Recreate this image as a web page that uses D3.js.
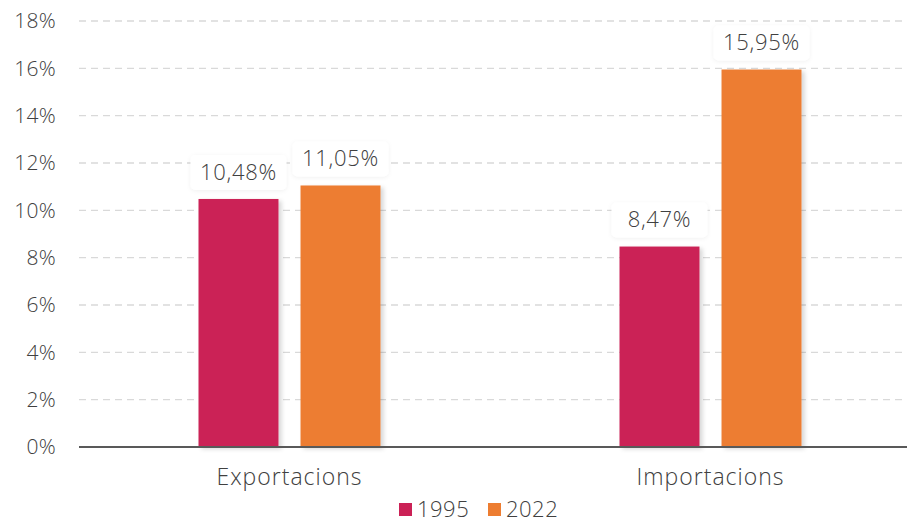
<!DOCTYPE html>
<html>
<head>
<meta charset="utf-8">
<script src="https://cdn.jsdelivr.net/npm/d3@7"></script>
<style>
  body { margin: 0; background: #fff; }
  svg text { font-family: "Open Sans", "Lato", sans-serif; font-weight: 300; fill: #404040; }
</style>
</head>
<body>
<svg width="907" height="519"></svg>
<script>
// chart data
const categories = ["Exportacions", "Importacions"];
const seriesNames = ["1995", "2022"];
const values1995 = [10.48, 8.47];
const values2022 = [11.05, 15.95];
const yTicks = [0, 2, 4, 6, 8, 10, 12, 14, 16, 18];
const colors = ["#CB2156", "#ED7D31"];

const svg = d3.select("svg");
const fmt = v => d3.format(".2f")(v).replace(".", ",") + "%";

const x = d3.scaleBand().domain(categories).range([79, 921]);
const xs = d3.scaleBand().domain(seriesNames).range([0, 182]).paddingInner(0.216);
const y = d3.scaleLinear().domain([0, 18]).range([447, 21]);

// shadow filters
const defs = svg.append("defs");
const sh = defs.append("filter").attr("id", "barShadow").attr("x", "-20%").attr("y", "-10%").attr("width", "150%").attr("height", "130%");
sh.append("feDropShadow").attr("dx", 3).attr("dy", 2).attr("stdDeviation", 2).attr("flood-color", "#000").attr("flood-opacity", 0.16);
const lsh = defs.append("filter").attr("id", "labelShadow").attr("x", "-20%").attr("y", "-30%").attr("width", "140%").attr("height", "170%");
lsh.append("feDropShadow").attr("dx", 0).attr("dy", 1).attr("stdDeviation", 2).attr("flood-color", "#000").attr("flood-opacity", 0.06);

// grid
svg.append("g").selectAll("line").data(yTicks.filter(d => d > 0)).join("line")
  .attr("x1", 79).attr("x2", 907)
  .attr("y1", d => y(d)).attr("y2", d => y(d))
  .attr("stroke", "#d9d9d9").attr("stroke-width", 1.3).attr("stroke-dasharray", "7,5");

// y tick labels
svg.append("g").selectAll("text").data(yTicks).join("text")
  .attr("x", 56).attr("y", d => y(d)).attr("dy", "0.35em")
  .attr("text-anchor", "end").attr("font-size", 21).attr("letter-spacing", 0.3)
  .text(d => d + "%");

const rows = [];
categories.forEach((c, i) => {
  rows.push({ cat: c, s: "1995", v: values1995[i], col: colors[0] });
  rows.push({ cat: c, s: "2022", v: values2022[i], col: colors[1] });
});

const barX = d => x(d.cat) + (x.bandwidth() - 182) / 2 + xs(d.s);

// bars
svg.append("g").selectAll("rect").data(rows).join("rect")
  .attr("x", barX)
  .attr("width", xs.bandwidth())
  .attr("y", d => y(d.v))
  .attr("height", d => y(0) - y(d.v))
  .attr("fill", d => d.col)
  .attr("filter", "url(#barShadow)");

// axis line
svg.append("line").attr("x1", 79).attr("x2", 907).attr("y1", y(0)).attr("y2", y(0))
  .attr("stroke", "#595959").attr("stroke-width", 2);

// value labels
const lab = svg.append("g").selectAll("g").data(rows).join("g")
  .attr("transform", d => "translate(" + (barX(d) + xs.bandwidth() / 2) + "," + (y(d.v) - 27) + ")");
lab.append("rect")
  .attr("x", -48).attr("y", -17).attr("width", 96).attr("height", 35).attr("rx", 5)
  .attr("fill", "#fff").attr("filter", "url(#labelShadow)");
lab.append("text").attr("text-anchor", "middle").attr("dy", "0.35em")
  .attr("font-size", 22).attr("letter-spacing", 0.7)
  .text(d => fmt(d.v));

// category labels
svg.append("g").selectAll("text").data(categories).join("text")
  .attr("x", d => x(d) + x.bandwidth() / 2).attr("y", 485)
  .attr("text-anchor", "middle").attr("font-size", 23).attr("letter-spacing", 1)
  .text(d => d);

// legend
const leg = svg.append("g").selectAll("g").data(seriesNames).join("g")
  .attr("transform", (d, i) => "translate(" + (399 + i * 89) + ",503)");
leg.append("rect").attr("width", 13).attr("height", 13).attr("fill", (d, i) => colors[i]);
leg.append("text").attr("x", 18).attr("y", 6).attr("dy", "0.35em")
  .attr("font-size", 22).attr("letter-spacing", 0.5).text(d => d);
</script>
</body>
</html>
